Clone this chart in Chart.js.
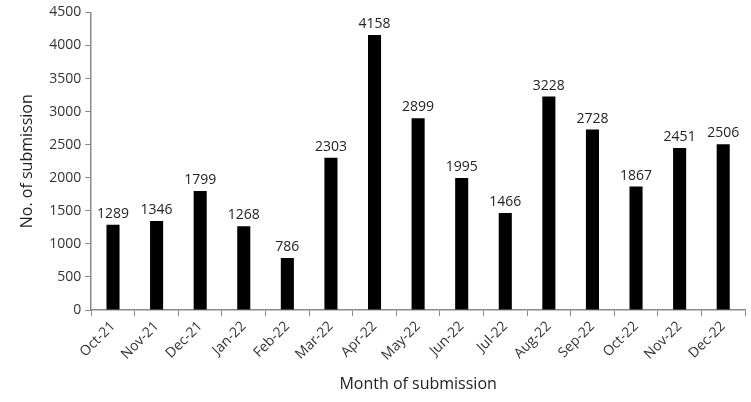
<!DOCTYPE html>
<html>
<head>
<meta charset="utf-8">
<script src="https://cdn.jsdelivr.net/npm/chart.js@4/dist/chart.umd.min.js"></script>
<style>
  html, body { margin: 0; padding: 0; background: #fff; }
  #wrap { width: 751px; height: 402px; }
</style>
</head>
<body>
<div id="wrap"><canvas id="chart"></canvas></div>
<script>
/* ── DATA ───────────────────────────────────────── */
const months = [
  "Oct-21", "Nov-21", "Dec-21", "Jan-22", "Feb-22", "Mar-22", "Apr-22", "May-22",
  "Jun-22", "Jul-22", "Aug-22", "Sep-22", "Oct-22", "Nov-22", "Dec-22",
];
const submissions = [1289, 1346, 1799, 1268, 786, 2303, 4158, 2899, 1995, 1466, 3228, 2728, 1867, 2451, 2506];
const yTicks = [0, 500, 1000, 1500, 2000, 2500, 3000, 3500, 4000, 4500];

const FONT = "'Open Sans', 'Liberation Sans', Arial, sans-serif";
const AXIS = "#8a8a8a";

/* ── VALUE LABELS ───────────────────────────────── */
const valueLabels = {
  id: "valueLabels",
  afterDatasetsDraw(chart) {
    const ctx = chart.ctx;
    const meta = chart.getDatasetMeta(0);
    ctx.save();
    ctx.fillStyle = "#222";
    ctx.font = "14px " + FONT;
    ctx.textAlign = "center";
    ctx.textBaseline = "bottom";
    meta.data.forEach((bar, i) => {
      ctx.fillText(String(submissions[i]), bar.x, bar.y - 4);
    });
    ctx.restore();
  },
};

/* ── CHART ──────────────────────────────────────── */
new Chart(document.getElementById("chart"), {
  type: "bar",
  data: {
    labels: months,
    datasets: [
      {
        data: submissions,
        backgroundColor: "#000",
        barPercentage: 0.3,
        categoryPercentage: 1,
      },
    ],
  },
  options: {
    responsive: true,
    maintainAspectRatio: false,
    animation: false,
    layout: { padding: { left: 14, right: 6, top: 12, bottom: 4 } },
    plugins: { legend: { display: false }, tooltip: { enabled: false } },
    scales: {
      x: {
        grid: {
          offset: true,
          drawOnChartArea: false,
          color: AXIS,
          tickLength: 6,
        },
        border: { color: AXIS, width: 1.5 },
        ticks: {
          color: "#333",
          font: { family: FONT, size: 14 },
          minRotation: 45,
          maxRotation: 45,
          padding: 2,
        },
        title: {
          display: true,
          text: "Month of submission",
          color: "#222",
          font: { family: FONT, size: 16 },
          padding: { top: 9 },
        },
      },
      y: {
        min: 0,
        max: 4500,
        afterBuildTicks(scale) {
          scale.ticks = yTicks.map((v) => ({ value: v }));
        },
        grid: {
          drawOnChartArea: false,
          color: AXIS,
          tickLength: 6,
        },
        border: { color: AXIS, width: 1.5 },
        ticks: {
          color: "#333",
          font: { family: FONT, size: 14 },
          padding: 4,
          callback: (v) => String(v),
        },
        title: {
          display: true,
          text: "No. of submission",
          color: "#222",
          font: { family: FONT, size: 16 },
          padding: { bottom: 8 },
        },
      },
    },
  },
  plugins: [valueLabels],
});
</script>
</body>
</html>
